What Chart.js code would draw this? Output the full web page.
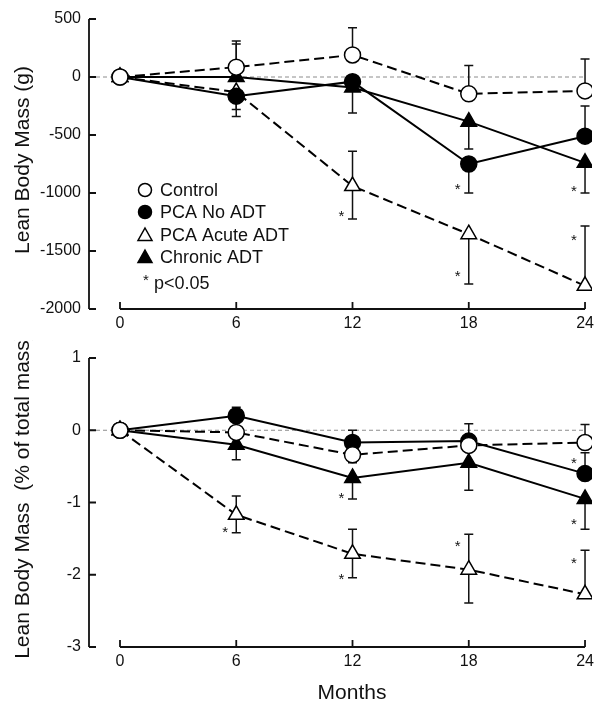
<!DOCTYPE html>
<html>
<head>
<meta charset="utf-8">
<script src="https://cdn.jsdelivr.net/npm/chart.js@4.4.0/dist/chart.umd.min.js"></script>
<style>
  body { margin: 0; background: #fff; }
  .panel { position: absolute; left: 0; }
</style>
</head>
<body>
<div class="panel" style="top:0"><canvas id="grams" width="604" height="340"></canvas></div>
<div class="panel" style="top:340px"><canvas id="percent" width="604" height="372"></canvas></div>
<script>
var months = [0, 6, 12, 18, 24];
var seriesNames = ["Control", "PCA No ADT", "PCA Acute ADT", "Chronic ADT"];
var gramTicks = [-2000, -1500, -1000, -500, 0, 500];
var pctTicks = [-3, -2, -1, 0, 1];

// lean body mass change, grams
var controlG = [0, 85, 190, -145, -120];
var noAdtG = [0, -165, -40, -750, -510];
var acuteG = [0, -130, -940, -1355, -1800];
var chronicG = [0, 0, -90, -385, -740];
// end of the error whiskers (null = not drawn)
var controlGHi = [null, 310, 425, 100, 155];
var controlGLo = [null, null, null, null, null];
var noAdtGHi = [null, null, null, null, -250];
var noAdtGLo = [null, -340, -310, -1000, null];
var acuteGHi = [null, null, -640, null, -1285];
var acuteGLo = [null, -280, -1225, -1785, null];
var chronicGHi = [null, 285, null, null, null];
var chronicGLo = [null, null, null, -620, -1000];
// significance stars [month, value]
var starsG = [[12, -1172], [18, -940], [18, -1690], [24, -957], [24, -1380]];

// lean body mass change, % of total mass
var controlP = [0, -0.03, -0.34, -0.21, -0.17];
var noAdtP = [0, 0.2, -0.17, -0.15, -0.6];
var acuteP = [0, -1.17, -1.71, -1.93, -2.27];
var chronicP = [0, -0.2, -0.66, -0.45, -0.95];
var controlPHi = [null, null, null, 0.09, 0.08];
var controlPLo = [null, null, -0.45, null, null];
var noAdtPHi = [null, 0.32, 0, null, -0.31];
var noAdtPLo = [null, null, null, null, null];
var acutePHi = [null, -0.91, -1.37, -1.44, -1.66];
var acutePLo = [null, -1.42, -2.04, -2.39, null];
var chronicPHi = [null, null, null, null, null];
var chronicPLo = [null, -0.41, -0.95, -0.83, -1.37];
var starsP = [[6, -1.36], [12, -0.9], [12, -2.02], [18, -1.56], [24, -0.405], [24, -1.26], [24, -1.79]];

var FONT = "'Liberation Sans', Arial, Helvetica, sans-serif";
var INK = "#111";

var markerStyles = [
  { style: "circle", fill: "#fff", dash: [10, 5], radius: 8 },
  { style: "circle", fill: "#000", dash: [], radius: 8 },
  { style: "triangle", fill: "#fff", dash: [10, 5], radius: 9 },
  { style: "triangle", fill: "#000", dash: [], radius: 9 },
];

function buildDatasets(values) {
  return values.map(function (v, k) {
    var s = markerStyles[k];
    return {
      label: seriesNames[k],
      data: months.map(function (m, i) {
        return { x: m, y: v[i] };
      }),
      borderColor: "#000",
      borderWidth: 2,
      borderDash: s.dash,
      pointStyle: s.style,
      pointRadius: s.radius,
      pointHoverRadius: s.radius,
      pointBackgroundColor: s.fill,
      pointBorderColor: "#000",
      pointBorderWidth: 1.5,
      tension: 0,
    };
  });
}

function drawStar(ctx, x, y) {
  ctx.font = "15px " + FONT;
  ctx.textAlign = "center";
  ctx.textBaseline = "alphabetic";
  ctx.fillText("*", x, y + 8);
}

var paperPlugin = {
  id: "paper",
  beforeDatasetsDraw: function (chart, args, opts) {
    var ctx = chart.ctx;
    var xs = chart.scales.x;
    var ys = chart.scales.y;
    var area = chart.chartArea;
    var x0 = xs.getPixelForValue(months[0]);
    var x1 = xs.getPixelForValue(months[months.length - 1]);
    var yTop = ys.getPixelForValue(ys.max);
    var yBot = ys.getPixelForValue(ys.min);
    var yZero = ys.getPixelForValue(0);
    ctx.save();

    // zero reference line
    ctx.strokeStyle = "#8c8c8c";
    ctx.lineWidth = 1;
    ctx.setLineDash([4, 3]);
    ctx.beginPath();
    ctx.moveTo(area.left, yZero);
    ctx.lineTo(x1, yZero);
    ctx.stroke();
    ctx.setLineDash([]);

    // axis lines with inward ticks
    ctx.strokeStyle = INK;
    ctx.lineWidth = 1.8;
    ctx.beginPath();
    ctx.moveTo(area.left, yTop);
    ctx.lineTo(area.left, yBot);
    opts.yTicks.forEach(function (t) {
      var y = ys.getPixelForValue(t);
      ctx.moveTo(area.left, y);
      ctx.lineTo(area.left + 7, y);
    });
    ctx.moveTo(x0, yBot);
    ctx.lineTo(x1, yBot);
    months.forEach(function (m) {
      var x = xs.getPixelForValue(m);
      ctx.moveTo(x, yBot);
      ctx.lineTo(x, yBot - 7);
    });
    ctx.stroke();

    // error bars
    ctx.lineWidth = 1.5;
    opts.errors.forEach(function (e, k) {
      var vals = opts.values[k];
      months.forEach(function (m, i) {
        [e.hi[i], e.lo[i]].forEach(function (end) {
          if (end === null) return;
          var x = xs.getPixelForValue(m);
          var yc = ys.getPixelForValue(vals[i]);
          var ye = ys.getPixelForValue(end);
          ctx.beginPath();
          ctx.moveTo(x, yc);
          ctx.lineTo(x, ye);
          ctx.moveTo(x - 4.5, ye);
          ctx.lineTo(x + 4.5, ye);
          ctx.stroke();
        });
      });
    });
    ctx.restore();
  },
  afterDatasetsDraw: function (chart, args, opts) {
    var ctx = chart.ctx;
    var xs = chart.scales.x;
    var ys = chart.scales.y;
    ctx.save();
    ctx.fillStyle = INK;

    opts.stars.forEach(function (s) {
      drawStar(ctx, xs.getPixelForValue(s[0]) - 11, ys.getPixelForValue(s[1]));
    });

    // y axis title
    ctx.save();
    ctx.translate(23, opts.titleY);
    ctx.rotate(-Math.PI / 2);
    ctx.font = "21px " + FONT;
    ctx.textAlign = "center";
    ctx.textBaseline = "middle";
    ctx.fillText(opts.yTitle, 0, 0);
    ctx.restore();

    if (opts.xTitle) {
      ctx.font = "21px " + FONT;
      ctx.textAlign = "center";
      ctx.textBaseline = "middle";
      ctx.fillText(opts.xTitle, 352, 353);
    }

    if (opts.legend) {
      var rows = [190, 212, 235, 257];
      ctx.strokeStyle = "#000";
      ctx.lineWidth = 1.5;
      rows.forEach(function (y, k) {
        var s = markerStyles[k];
        ctx.fillStyle = s.fill;
        ctx.beginPath();
        if (s.style === "circle") {
          ctx.arc(145, y, 6.5, 0, Math.PI * 2);
        } else {
          ctx.moveTo(145, y - 7);
          ctx.lineTo(152, y + 5.5);
          ctx.lineTo(138, y + 5.5);
          ctx.closePath();
        }
        ctx.fill();
        ctx.stroke();
        ctx.fillStyle = INK;
        ctx.font = "18px " + FONT;
        ctx.textAlign = "left";
        ctx.textBaseline = "middle";
        ctx.fillText(seriesNames[k], 160, y + 1);
      });
      drawStar(ctx, 146, 277);
      ctx.font = "18px " + FONT;
      ctx.textAlign = "left";
      ctx.textBaseline = "middle";
      ctx.fillText("p<0.05", 154, 284);
    }
    ctx.restore();
  },
};

function makeChart(id, opts) {
  var ctx = document.getElementById(id).getContext("2d");
  return new Chart(ctx, {
    type: "line",
    data: { datasets: buildDatasets(opts.values) },
    plugins: [paperPlugin],
    options: {
      responsive: false,
      animation: false,
      events: [],
      layout: { padding: { top: opts.padTop, right: 12, left: 0, bottom: 0 } },
      plugins: {
        legend: { display: false },
        tooltip: { enabled: false },
        paper: opts,
      },
      scales: {
        x: {
          type: "linear",
          min: -1.6,
          max: 24.36,
          grid: { display: false, drawTicks: false },
          border: { display: false },
          ticks: {
            color: INK,
            font: { family: FONT, size: 16 },
            padding: 5,
            callback: function (v) {
              return String(v);
            },
          },
          afterBuildTicks: function (scale) {
            scale.ticks = months.map(function (v) {
              return { value: v };
            });
          },
          afterFit: function (scale) {
            scale.height = opts.xHeight;
          },
        },
        y: {
          min: opts.yTicks[0],
          max: opts.yTicks[opts.yTicks.length - 1],
          grid: { display: false, drawTicks: false },
          border: { display: false },
          ticks: {
            color: INK,
            font: { family: FONT, size: 16 },
            padding: 8,
            callback: function (v) {
              return String(v);
            },
          },
          afterBuildTicks: function (scale) {
            scale.ticks = opts.yTicks.map(function (v) {
              return { value: v };
            });
          },
          afterFit: function (scale) {
            scale.width = 89;
          },
        },
      },
    },
  });
}

makeChart("grams", {
  values: [controlG, noAdtG, acuteG, chronicG],
  errors: [
    { hi: controlGHi, lo: controlGLo },
    { hi: noAdtGHi, lo: noAdtGLo },
    { hi: acuteGHi, lo: acuteGLo },
    { hi: chronicGHi, lo: chronicGLo },
  ],
  stars: starsG,
  yTicks: gramTicks,
  yTitle: "Lean Body Mass (g)",
  titleY: 160,
  legend: true,
  xTitle: null,
  padTop: 19,
  xHeight: 31,
});

makeChart("percent", {
  values: [controlP, noAdtP, acuteP, chronicP],
  errors: [
    { hi: controlPHi, lo: controlPLo },
    { hi: noAdtPHi, lo: noAdtPLo },
    { hi: acutePHi, lo: acutePLo },
    { hi: chronicPHi, lo: chronicPLo },
  ],
  stars: starsP,
  yTicks: pctTicks,
  yTitle: "Lean Body Mass  (% of total mass)",
  titleY: 156,
  legend: false,
  xTitle: "Months",
  padTop: 18,
  xHeight: 65,
});
</script>
</body>
</html>
